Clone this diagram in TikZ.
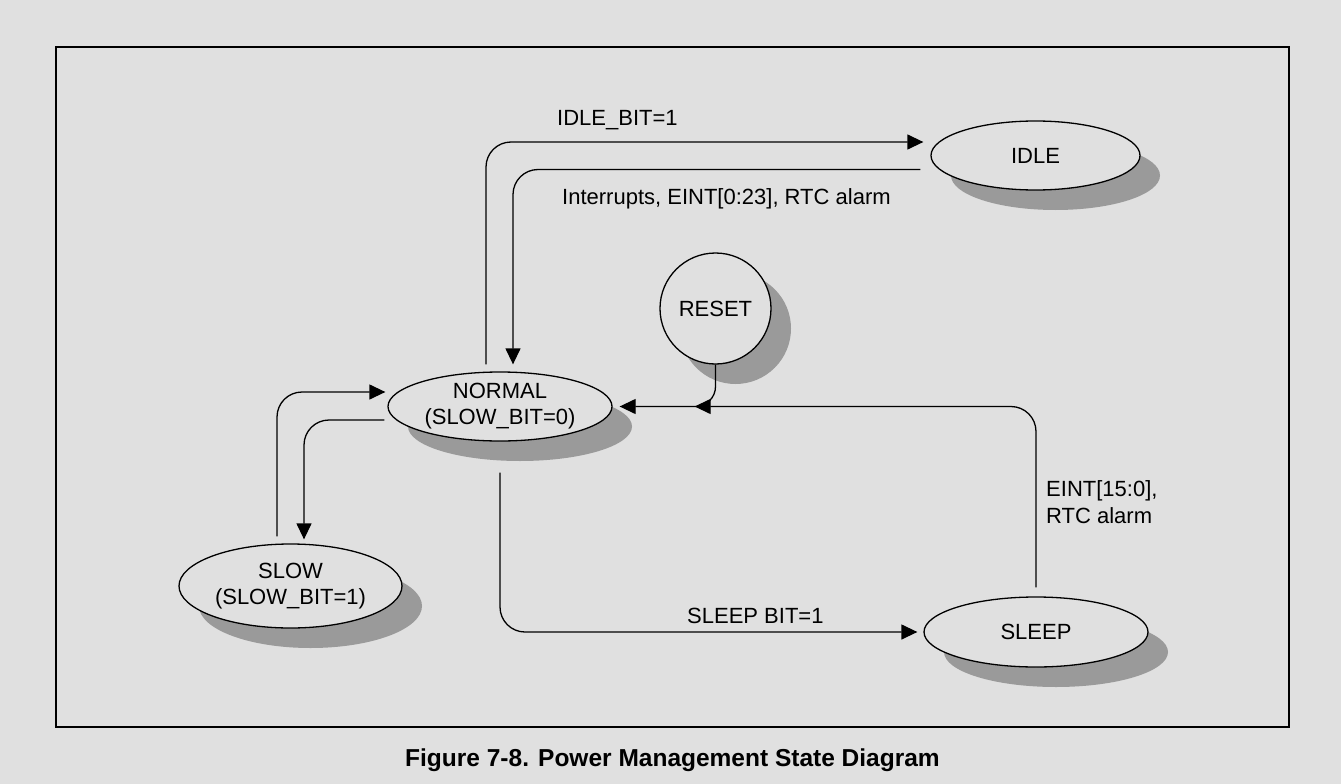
\documentclass[tikz,border=0pt]{standalone}
\usepackage{fontspec}
\setmainfont{Liberation Sans}
\usetikzlibrary{shapes.geometric,shadows,arrows.meta,calc}
\definecolor{bg}{HTML}{E0E0E0}
\definecolor{shade}{HTML}{9A9A9A}
\begin{document}
\begin{tikzpicture}[x=1pt,y=-1pt,
  state/.style={ellipse, draw, line width=1.3pt, fill=bg, inner sep=0pt, align=center,
    font=\fontsize{22}{26}\selectfont,
    drop shadow={shadow xshift=20pt, shadow yshift=-20pt, fill=shade, opacity=1}},
  conn/.style={line width=1.3pt, rounded corners=25pt},
  arr/.style={-{Triangle[length=16pt,width=15pt]}},
  lbl/.style={font=\fontsize{22}{26}\selectfont, inner sep=0pt, anchor=base west},
]
\fill[bg] (0,0) rectangle (1341,784);
\useasboundingbox (0,0) rectangle (1341,784);
\draw[line width=1.5pt] (56,47) rectangle (1289,727);

\node[state, minimum width=209pt, minimum height=69pt] (idle) at (1035.5,155.5) {IDLE};
\node[state, circle, minimum size=111pt] (reset) at (715.5,308.5) {RESET};
\node[state, minimum width=224pt, minimum height=69pt] (normal) at (500,406.5) {NORMAL\\(SLOW\_BIT=0)};
\node[state, minimum width=223pt, minimum height=84pt] (slow) at (290.5,586) {SLOW\\(SLOW\_BIT=1)};
\node[state, minimum width=224pt, minimum height=70pt] (sleep) at (1036,632) {SLEEP};

% NORMAL -> IDLE
\draw[conn,arr] ([shift={(-14pt,7pt)}]normal.north) |- ([shift={(-7pt,13.5pt)}]idle.west);
% IDLE -> NORMAL
\draw[conn,arr] ([shift={(-10pt,-14pt)}]idle.west) -| ([shift={(13pt,7pt)}]normal.north);
% RESET -> NORMAL
\draw[line width=1.3pt, rounded corners=20pt, arr] (reset.south) |- ([xshift=7pt]normal.east);
% SLEEP -> NORMAL
\draw[conn,arr] ([yshift=9pt]sleep.north) |- ([xshift=82pt]normal.east);
% NORMAL -> SLEEP
\draw[conn,arr] ([yshift=-31pt]normal.south) |- ([xshift=-6pt]sleep.west);
% SLOW -> NORMAL
\draw[conn,arr] ([shift={(-13.5pt,7pt)}]slow.north) |- ([shift={(-2pt,14.5pt)}]normal.west);
% NORMAL -> SLOW
\draw[conn,arr] ([shift={(-3pt,-13.5pt)}]normal.west) -| ([shift={(13.5pt,4pt)}]slow.north);

\node[lbl] (l1) at (557,125) {IDLE\_BIT=1};
\node[lbl] (l2) at (562,204) {Interrupts, EINT[0:23], RTC alarm};
\node[lbl] (l3) at (1046,496) {EINT[15:0],};
\node[lbl] (l4) at (1046,523) {RTC alarm};
\node[lbl] (l5) at (687,623) {SLEEP BIT=1};

\node[font=\fontsize{24.5}{28}\selectfont\bfseries, anchor=base, inner sep=0pt] (cap) at (672.5,766) {Figure 7-8. Power Management State Diagram};
\end{tikzpicture}
\end{document}
